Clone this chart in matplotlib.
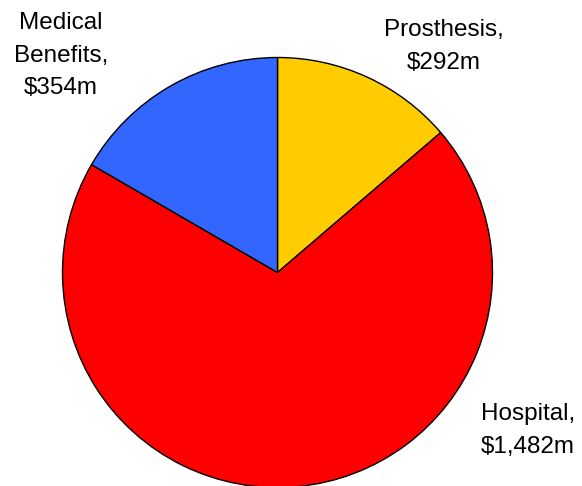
import matplotlib
matplotlib.use('Agg')
import matplotlib.pyplot as plt

labels = ['Prosthesis,\n$292m', 'Hospital,\n$1,482m', 'Medical\nBenefits,\n$354m']
values = [292, 1482, 354]
colors = ['#FFCC00', '#FF0000', '#3366FF']

plt.rcParams['font.family'] = ['Liberation Sans', 'DejaVu Sans']

fig = plt.figure(figsize=(5.82, 4.86), dpi=100)
ax = fig.add_axes([0, 0, 1, 1])
ax.pie(values, colors=colors, startangle=90, counterclock=False,
       wedgeprops={'edgecolor': 'black', 'linewidth': 1.0})

# label positions (last line baseline) in units of the pie radius
label_pos = [(0.774, 0.948), (1.165, -0.838), (-1.007, 0.829)]
for lab, (x, y) in zip(labels, label_pos):
    ax.text(x, y, lab, ha='center', va='baseline', fontsize=17.5,
            linespacing=1.63, multialignment='center', clip_on=False)

ax.set_aspect('auto')
ax.set_xlim(-277.5 / 215, (582 - 277.5) / 215)
ax.set_ylim(-(486 - 272.5) / 215, 272.5 / 215)
ax.axis('off')

fig.savefig('out.png', dpi=100)
